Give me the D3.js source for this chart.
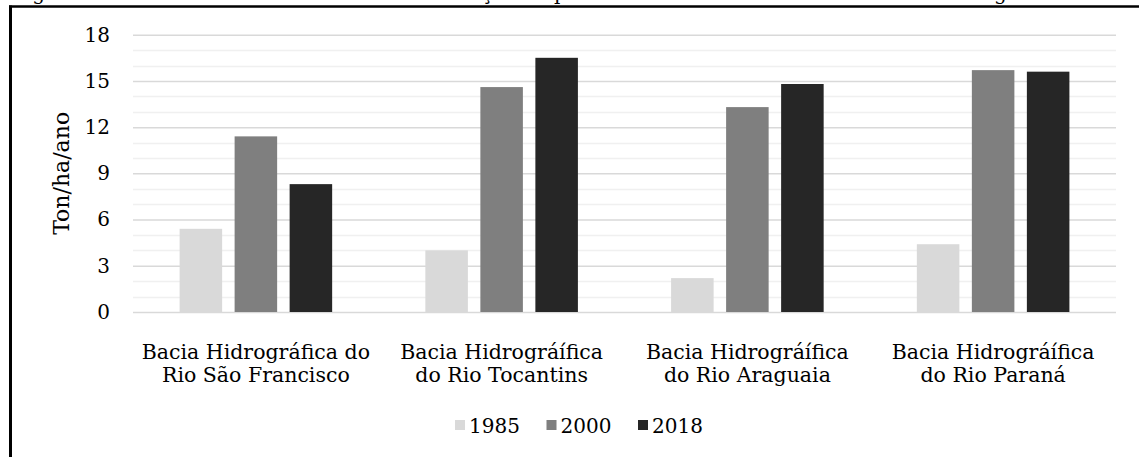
<!DOCTYPE html>
<html>
<head>
<meta charset="utf-8">
<script src="https://cdn.jsdelivr.net/npm/d3@7"></script>
<style>
  body { margin: 0; background: #fff; }
  svg { display: block; font-family: "DejaVu Serif", serif; }
</style>
</head>
<body>
<script>
var bacias = [
    ["Bacia Hidrográfica do", "Rio São Francisco"],
    ["Bacia Hidrográífica", "do Rio Tocantins"],
    ["Bacia Hidrográífica", "do Rio Araguaia"],
    ["Bacia Hidrográífica", "do Rio Paraná"]
];
var anos = ["1985", "2000", "2018"];
var v1985 = [5.4, 4.0, 2.2, 4.4];
var v2000 = [11.4, 14.6, 13.3, 15.7];
var v2018 = [8.3, 16.5, 14.8, 15.6];
var yTicks = [0, 3, 6, 9, 12, 15, 18];
var cores = ["#d9d9d9", "#7f7f7f", "#262626"];

var width = 1139,
    height = 457;

var svg = d3.select("body")
    .append("svg")
    .attr("width", width)
    .attr("height", height);

// caption line cut off at the top
svg.append("text")
    .attr("x", 12)
    .attr("y", -0.5)
    .attr("font-size", 20)
    .attr("fill", "#000")
    .text("Figura 5. Estimativa da erosão do solo e evolução da perda média anual de solo nas bacias hidrográficas do Cerrado, por ano e região de análise");

// frame
svg.append("line")
    .attr("x1", 9).attr("x2", width)
    .attr("y1", 6.5).attr("y2", 6.5)
    .attr("stroke", "#000").attr("stroke-width", 2.5);
svg.append("line")
    .attr("x1", 10.5).attr("x2", 10.5)
    .attr("y1", 5.5).attr("y2", height)
    .attr("stroke", "#000").attr("stroke-width", 3);

var x0 = d3.scaleBand()
    .domain(d3.range(bacias.length))
    .range([133, 1116]);

var x1 = d3.scaleBand()
    .domain(anos)
    .range([0, x0.bandwidth()])
    .paddingInner(0.227)
    .paddingOuter(0.847);

var y = d3.scaleLinear()
    .domain([0, 18])
    .range([312, 34.7]);

// minor grid
svg.append("g")
    .selectAll("line")
    .data(d3.range(1, 19).filter(function(d){ return d % 3 != 0; }))
    .enter()
    .append("line")
    .attr("x1", 133).attr("x2", 1116)
    .attr("y1", function(d){ return Math.round(y(d)) + 0.5; })
    .attr("y2", function(d){ return Math.round(y(d)) + 0.5; })
    .attr("stroke", "#f0f0f0")
    .attr("stroke-width", 1.5);

// major grid
var yAxis = svg.append("g")
    .attr("transform", "translate(133,0)")
    .call(d3.axisLeft(y).tickValues(yTicks).tickSize(-(1116 - 133)).tickPadding(23));
yAxis.select(".domain").remove();
yAxis.selectAll(".tick line")
    .attr("stroke", "#d9d9d9")
    .attr("stroke-width", 1.5);
yAxis.selectAll(".tick text")
    .attr("font-family", "DejaVu Serif")
    .attr("font-size", 20)
    .attr("fill", "#000");

var series = [v1985, v2000, v2018];

var groups = svg.append("g")
    .selectAll("g")
    .data(bacias)
    .enter()
    .append("g")
    .attr("transform", function(d, i){ return "translate(" + x0(i) + ",0)"; });

groups.selectAll("rect")
    .data(function(d, i){
        return anos.map(function(a, j){ return { ano: a, valor: series[j][i], cor: cores[j] }; });
    })
    .enter()
    .append("rect")
    .attr("x", function(d){ return x1(d.ano); })
    .attr("width", x1.bandwidth())
    .attr("y", function(d){ return y(d.valor); })
    .attr("height", function(d){ return y(0) - y(d.valor); })
    .attr("fill", function(d){ return d.cor; });

// category labels
var labels = svg.append("g")
    .selectAll("text")
    .data(bacias)
    .enter()
    .append("text")
    .attr("text-anchor", "middle")
    .attr("font-size", 20.5)
    .attr("fill", "#000");
labels.selectAll("tspan")
    .data(function(d, i){ return d.map(function(t){ return { t: t, i: i }; }); })
    .enter()
    .append("tspan")
    .attr("x", function(d){ return x0(d.i) + x0.bandwidth() / 2; })
    .attr("y", function(d, k){ return 359 + k * 23; })
    .text(function(d){ return d.t; });

// y title
svg.append("text")
    .attr("transform", "translate(69," + y(9) + ") rotate(-90)")
    .attr("text-anchor", "middle")
    .attr("font-size", 22)
    .attr("fill", "#000")
    .text("Ton/ha/ano");

// legend
var legend = svg.append("g")
    .selectAll("g")
    .data(anos)
    .enter()
    .append("g")
    .attr("transform", function(d, i){ return "translate(" + (455 + i * 91.5) + ",425)"; });
legend.append("rect")
    .attr("x", 0).attr("y", -5)
    .attr("width", 10).attr("height", 10)
    .attr("fill", function(d, i){ return cores[i]; });
legend.append("text")
    .attr("x", 14)
    .attr("y", 7.5)
    .attr("font-size", 20)
    .attr("fill", "#000")
    .text(function(d){ return d; });
</script>
</body>
</html>
